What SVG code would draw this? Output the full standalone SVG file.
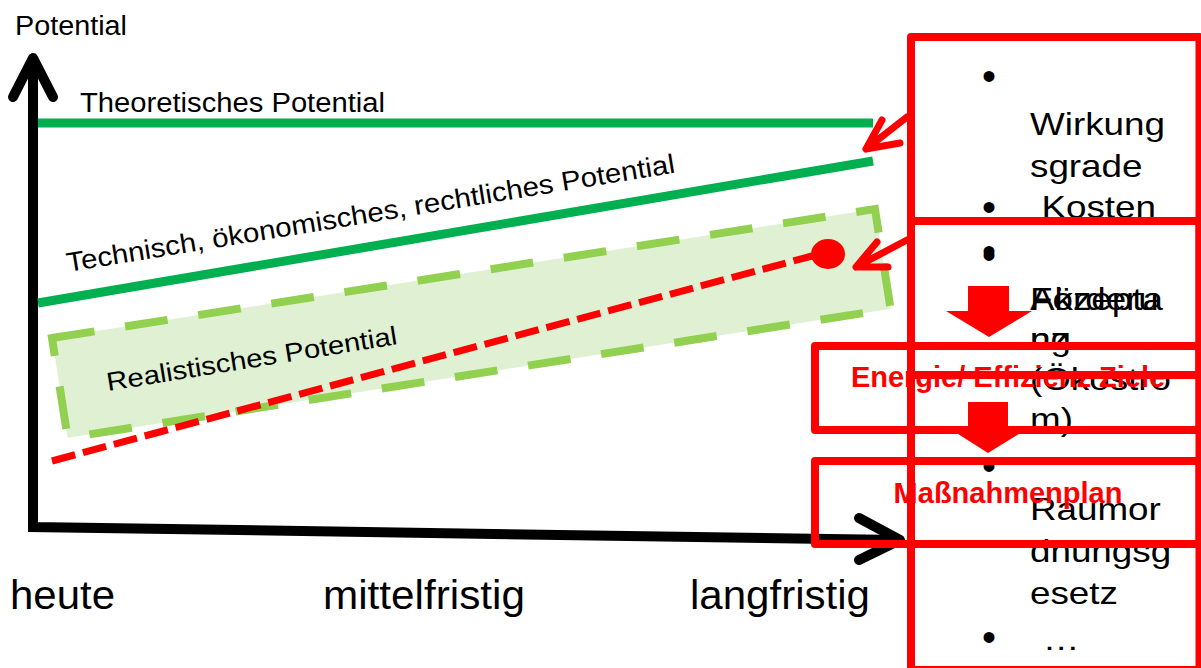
<svg xmlns="http://www.w3.org/2000/svg" width="1201" height="668" viewBox="0 0 1201 668">
  <style>
    .lbl { font-family: "Liberation Sans", Arial, sans-serif; fill: #000; }
    .red { font-family: "Liberation Sans", Arial, sans-serif; font-weight: bold; fill: #FF0000; }
    .box { fill: none; stroke: #FF0000; stroke-width: 8; stroke-linejoin: round; }
    .axis { fill: none; stroke: #000; stroke-width: 10; }
    .pot { fill: none; stroke: #00B050; stroke-width: 9; }
    .ptr { fill: none; stroke: #FF0000; stroke-width: 7; stroke-linecap: round; stroke-linejoin: round; }
    .blk { fill: #FF0000; }
    .bul { font-size: 40px; text-anchor: middle; }
  </style>
  <rect width="1201" height="668" fill="#fff"/>

  <!-- Axes -->
  <g id="axes">
    <path class="axis" d="M33,60 L33,527 L898,540" stroke-linejoin="miter"/>
    <path class="axis" d="M13,97 L33,58 L53,97" stroke-linecap="round" stroke-linejoin="round"/>
    <path class="axis" d="M859,518 L900,540 L859,560" stroke-linecap="round" stroke-linejoin="round"/>
    <text class="lbl" x="15" y="35" font-size="27" textLength="112" lengthAdjust="spacingAndGlyphs">Potential</text>
    <text class="lbl" x="10" y="609" font-size="40" textLength="105" lengthAdjust="spacingAndGlyphs">heute</text>
    <text class="lbl" x="323" y="609" font-size="40" textLength="202" lengthAdjust="spacingAndGlyphs">mittelfristig</text>
    <text class="lbl" x="690" y="609" font-size="40" textLength="180" lengthAdjust="spacingAndGlyphs">langfristig</text>
  </g>

  <!-- Theoretical potential -->
  <g id="theoretisch">
    <line class="pot" x1="38" y1="123" x2="873" y2="123"/>
    <text class="lbl" x="80" y="112" font-size="27" textLength="305" lengthAdjust="spacingAndGlyphs">Theoretisches Potential</text>
  </g>

  <!-- Technical / economic / legal potential -->
  <g id="technisch">
    <line class="pot" x1="38" y1="303" x2="873" y2="161"/>
    <text class="lbl" font-size="27" textLength="616" lengthAdjust="spacingAndGlyphs" transform="translate(68,272) rotate(-9.3)">Technisch, ökonomisches, rechtliches Potential</text>
  </g>

  <!-- Realistic potential band -->
  <g id="realistisch">
    <g transform="translate(52,338) rotate(-8.91)">
      <rect x="0" y="0" width="833" height="101" fill="#DFF0D3"/>
      <rect x="0" y="0" width="833" height="101" fill="none" stroke="#92D050" stroke-width="8" stroke-dasharray="43 31"/>
    </g>
    <text class="lbl" font-size="26" textLength="294" lengthAdjust="spacingAndGlyphs" transform="translate(108,391) rotate(-9.2)">Realistisches Potential</text>
  </g>

  <!-- Target path with end point -->
  <g id="zielpfad">
    <line x1="52" y1="461" x2="812" y2="256" stroke="#FF0000" stroke-width="7" stroke-dasharray="24 8"/>
    <ellipse cx="828" cy="254" rx="17" ry="15" fill="#FF0000"/>
  </g>

  <!-- Influencing factors -->
  <g id="faktoren">
    <rect class="box" x="911" y="37" width="288.5" height="633"/>
    <g class="lbl" font-size="32">
      <text class="bul" x="989" y="90">•</text>
      <text class="bul" x="989" y="221">•</text>
      <text class="bul" x="989" y="265">•</text>
      <text class="bul" x="989" y="480">•</text>
      <text class="bul" x="989" y="651">•</text>
      <g transform="translate(1030,0) scale(1.15,1)">
        <text x="0" y="135">Wirkung</text>
        <text x="0" y="177">sgrade</text>
        <text x="10" y="218">Kosten</text>
        <text x="0" y="310">Förderu</text>
        <text x="0" y="350">ng</text>
        <text x="0" y="390">(Ökostro</text>
        <text x="0" y="430">m)</text>
        <text x="0" y="520">Raumor</text>
        <text x="0" y="562">dnungsg</text>
        <text x="0" y="604">esetz</text>
        <text x="11" y="650">…</text>
      </g>
    </g>
  </g>

  <!-- Acceptance -->
  <g id="akzeptanz">
    <rect class="box" x="911" y="221" width="288.5" height="154"/>
    <g class="lbl" font-size="32">
      <text class="bul" x="989" y="269">•</text>
      <g transform="translate(1030,0) scale(1.15,1)">
        <text x="0" y="310">Akzepta</text>
        <text x="0" y="350">nz</text>
      </g>
    </g>
  </g>

  <!-- Energy / efficiency targets -->
  <g id="ziele">
    <rect class="box" x="815" y="346" width="384.5" height="84"/>
    <text class="red" x="1008" y="387" font-size="29" text-anchor="middle">Energie/ Effizienz Ziele</text>
  </g>

  <!-- Action plan -->
  <g id="massnahmenplan">
    <rect class="box" x="815" y="461" width="384.5" height="83"/>
    <text class="red" x="1008" y="503" font-size="29" text-anchor="middle">Maßnahmenplan</text>
  </g>

  <!-- Connectors -->
  <g id="connectors">
    <polygon class="blk" points="968,286 1009,286 1009,311 1032,311 989,337 946,311 968,311"/>
    <polygon class="blk" points="968,402 1008,402 1008,427 1030,427 988,453 947,427 968,427"/>
    <path class="ptr" d="M907,117 L866,149 M882,120 L866,149 L900,143"/>
    <path class="ptr" d="M907,240 L856,267 M877,242 L856,267 L888,267"/>
  </g>
</svg>
